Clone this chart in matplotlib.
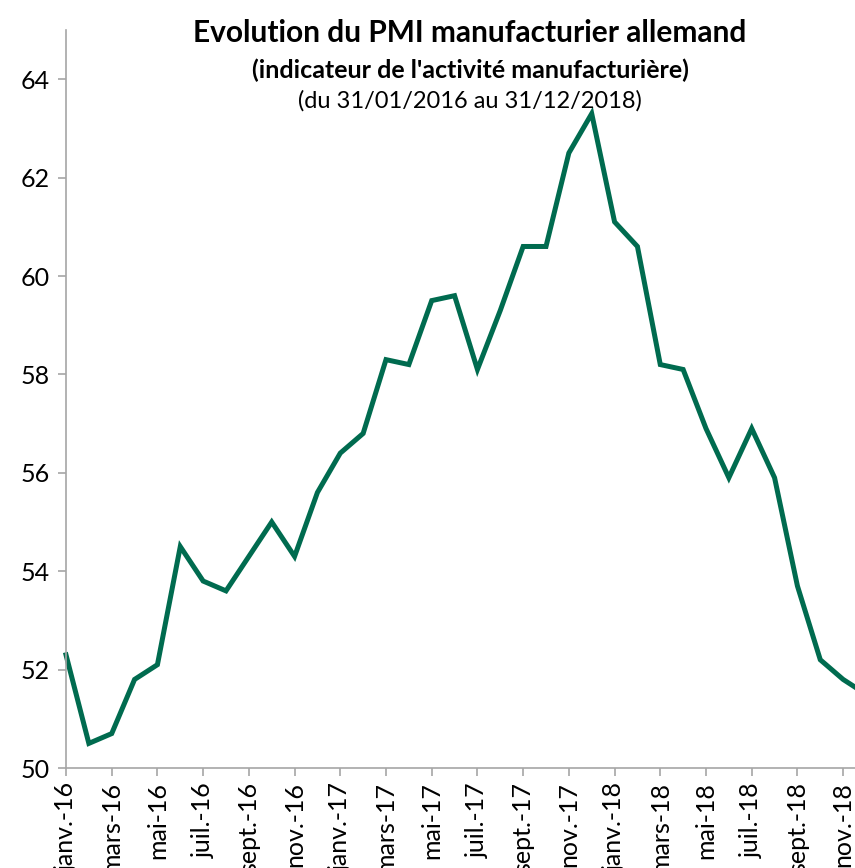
import numpy as np
import matplotlib
matplotlib.use("Agg")
import matplotlib.pyplot as plt

plt.rcParams['font.family'] = ['Lato', 'DejaVu Sans']

months = ['janv.-16', 'févr.-16', 'mars-16', 'avr.-16', 'mai-16', 'juin-16',
          'juil.-16', 'août-16', 'sept.-16', 'oct.-16', 'nov.-16', 'déc.-16',
          'janv.-17', 'févr.-17', 'mars-17', 'avr.-17', 'mai-17', 'juin-17',
          'juil.-17', 'août-17', 'sept.-17', 'oct.-17', 'nov.-17', 'déc.-17',
          'janv.-18', 'févr.-18', 'mars-18', 'avr.-18', 'mai-18', 'juin-18',
          'juil.-18', 'août-18', 'sept.-18', 'oct.-18', 'nov.-18', 'déc.-18']
pmi = [52.3, 50.5, 50.7, 51.8, 52.1, 54.5, 53.8, 53.6, 54.3, 55.0, 54.3, 55.6,
       56.4, 56.8, 58.3, 58.2, 59.5, 59.6, 58.1, 59.3, 60.6, 60.6, 62.5, 63.3,
       61.1, 60.6, 58.2, 58.1, 56.9, 55.9, 56.9, 55.9, 53.7, 52.2, 51.8, 51.5]

W, H = 855, 868
fig = plt.figure(figsize=(W / 100, H / 100), dpi=100)
# axes extends past the right edge like the cropped original
ax = fig.add_axes([66 / W, 100 / H, 800 / W, 738 / H])

x = np.arange(len(pmi))
ax.plot(x, pmi, color='#006b4f', lw=3.6, solid_joinstyle='miter', clip_on=False)

ax.set_xlim(0, 35)
ax.set_ylim(50, 65)
ax.set_yticks(range(50, 65, 2))
ax.set_xticks(x[::2])
ax.set_xticklabels(months[::2], rotation=90)

for s in ['top', 'right']:
    ax.spines[s].set_visible(False)
for s in ['left', 'bottom']:
    ax.spines[s].set_color('#a6a6a6')
    ax.spines[s].set_linewidth(1.2)
ax.tick_params(axis='both', colors='#a6a6a6', labelcolor='black', labelsize=18,
               length=6, width=1.2, direction='out')
ax.tick_params(axis='y', pad=6)
ax.tick_params(axis='x', pad=4)

fig.text(470 / W, 1 - 33 / H, 'Evolution du PMI manufacturier allemand',
         ha='center', va='center', fontsize=21.5, fontweight='bold')
fig.text(470 / W, 1 - 70 / H, "(indicateur de l'activité manufacturière)",
         ha='center', va='center', fontsize=18, fontweight='bold')
fig.text(470 / W, 1 - 101 / H, '(du 31/01/2016 au 31/12/2018)',
         ha='center', va='center', fontsize=17)

fig.savefig('out.png', dpi=100)
